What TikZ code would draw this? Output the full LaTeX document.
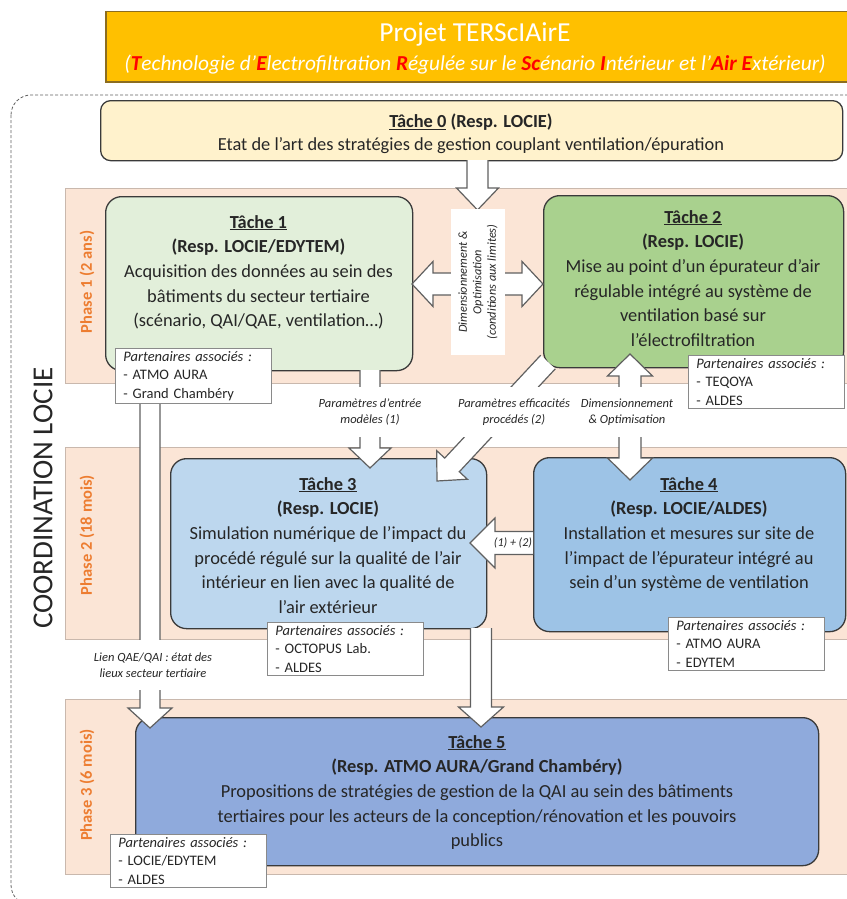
\documentclass[tikz,border=0pt]{standalone}
\usepackage{fontspec}
\setmainfont{Carlito}
\usetikzlibrary{calc}
\definecolor{bannerfill}{HTML}{FFC000}
\definecolor{bannerline}{HTML}{8C6D1F}
\definecolor{tzero}{HTML}{FFF2CC}
\definecolor{tone}{HTML}{E2EFDA}
\definecolor{ttwo}{HTML}{A9D18E}
\definecolor{tthree}{HTML}{BDD7EE}
\definecolor{tfour}{HTML}{9DC3E6}
\definecolor{tfive}{HTML}{8FAADC}
\definecolor{bandfill}{HTML}{FBE5D6}
\definecolor{bandline}{HTML}{C9B8AD}
\definecolor{phasecol}{HTML}{ED7D31}
\definecolor{boxline}{HTML}{3A3A3A}
\definecolor{txt}{HTML}{262626}
\definecolor{arrowgray}{HTML}{606060}
\definecolor{pline}{HTML}{8A8A8A}
\newcommand\blkarrow[5]{%
  \coordinate (tmpb) at ($(#2)!#5!(#1)$);
  \draw[barrow] ($(#1)!#3!90:(#2)$) -- ($(tmpb)!#3!90:(#2)$) -- ($(tmpb)!#4!90:(#2)$) -- (#2) -- ($(tmpb)!#4!-90:(#2)$) -- ($(tmpb)!#3!-90:(#2)$) -- ($(#1)!#3!-90:(#2)$);
}
\newcommand\blkdarrow[5]{%
  \coordinate (tmpa) at ($(#1)!#5!(#2)$);
  \coordinate (tmpb) at ($(#2)!#5!(#1)$);
  \draw[barrow] (#1) -- ($(tmpa)!#4!90:(#2)$) -- ($(tmpa)!#3!90:(#2)$) -- ($(tmpb)!#3!-90:(#1)$) -- ($(tmpb)!#4!-90:(#1)$) -- (#2) -- ($(tmpb)!#4!90:(#1)$) -- ($(tmpb)!#3!90:(#1)$) -- ($(tmpa)!#3!-90:(#2)$) -- ($(tmpa)!#4!-90:(#2)$) -- cycle;
}
\begin{document}
\begin{tikzpicture}[x=1pt,y=-1pt,
  taskbox/.style={draw=boxline, line width=1.3pt, rounded corners=16pt, anchor=north west, inner sep=0pt},
  band/.style={draw=bandline, fill=bandfill, line width=0.8pt, anchor=north west, inner sep=0pt, minimum width=800pt},
  tasktext/.style={align=center, font=\fontsize{18.4}{24.7}\selectfont, text=txt, inner sep=0pt, anchor=north},
  phase/.style={font=\fontsize{16.5}{18}\selectfont\bfseries, text=phasecol, rotate=90},
  pbox/.style={draw=pline, fill=white, line width=0.8pt, anchor=north west, text width=140pt, inner xsep=8pt, inner ysep=3pt, align=left, font=\fontsize{14.5}{18.5}\selectfont, text=txt},
  barrow/.style={draw=arrowgray, fill=white, line width=1.2pt, line join=miter},
  lab/.style={font=\fontsize{12.5}{16}\selectfont\itshape, align=center, fill=white, inner sep=2pt, text=txt, minimum height=50pt}
]
\useasboundingbox (0,0) rectangle (846,899);
% banner
\node[draw=bannerline, fill=bannerfill, line width=1.5pt, anchor=north west, minimum width=760pt, minimum height=70pt, inner sep=0pt] (banner) at (105,11) {};
\node[text=white, font=\fontsize{27.5}{30}\selectfont] (title) at (475,34) {Projet TERScIAirE};
\node[text=white, font=\fontsize{21.3}{24}\selectfont\itshape] (subtitle) at (475,65) {(\textbf{\color{red}T}echnologie d’\textbf{\color{red}E}lectrofiltration \textbf{\color{red}R}égulée sur le \textbf{\color{red}Sc}énario \textbf{\color{red}I}ntérieur et l’\textbf{\color{red}Air} \textbf{\color{red}E}xtérieur)};
% coordination frame
\draw[draw=arrowgray, line width=0.8pt, dash pattern=on 3pt off 2pt, rounded corners=20pt] (11,95) rectangle (880,905);
\node[font=\fontsize{29}{32}\selectfont, text=txt, rotate=90] (coord) at (43,498) {COORDINATION LOCIE};
% task 0
\node[taskbox, fill=tzero, rounded corners=10pt, minimum width=742pt, minimum height=60pt] (t0) at (100,100) {};
\node[tasktext, font=\fontsize{18.4}{23}\selectfont] (t0txt) at (471,114) {\textbf{\underline{Tâche 0} (Resp. LOCIE)}\\Etat de l’art des stratégies de gestion couplant ventilation/épuration};
% bands
\node[band, minimum height=195pt] (ph1) at (65,188) {};
\node[band, minimum height=192pt] (ph2) at (65,447) {};
\node[band, minimum height=175pt] (ph3) at (65,699) {};
\node[phase] (ph1lab) at (87,282) {Phase 1 (2 ans)};
\node[phase] (ph2lab) at (87,535) {Phase 2 (18 mois)};
\node[phase] (ph3lab) at (87,785) {Phase 3 (6 mois)};
% tasks
\node[taskbox, fill=tone, minimum width=307pt, minimum height=174pt] (t1) at (105,196) {};
\node[tasktext] (t1txt) at (258.5,215) {\textbf{\underline{Tâche 1}}\\\textbf{(Resp. LOCIE/EDYTEM)}\\Acquisition des données au sein des\\bâtiments du secteur tertiaire\\(scénario, QAI/QAE, ventilation…)};
\node[taskbox, fill=ttwo, minimum width=300pt, minimum height=172pt] (t2) at (543,195) {};
\node[tasktext] (t2txt) at (693,210) {\textbf{\underline{Tâche 2}}\\\textbf{(Resp. LOCIE)}\\Mise au point d’un épurateur d’air\\régulable intégré au système de\\ventilation basé sur\\l’électrofiltration};
\node[taskbox, fill=tthree, minimum width=316pt, minimum height=170pt] (t3) at (170,458) {};
\node[tasktext] (t3txt) at (328,477) {\textbf{\underline{Tâche 3}}\\\textbf{(Resp. LOCIE)}\\Simulation numérique de l’impact du\\procédé régulé sur la qualité de l’air\\intérieur en lien avec la qualité de\\l’air extérieur};
\node[taskbox, fill=tfour, minimum width=312pt, minimum height=174pt] (t4) at (533,457) {};
\node[tasktext] (t4txt) at (689,477) {\textbf{\underline{Tâche 4}}\\\textbf{(Resp. LOCIE/ALDES)}\\Installation et mesures sur site de\\l’impact de l’épurateur intégré au\\sein d’un système de ventilation};
\node[taskbox, fill=tfive, minimum width=683pt, minimum height=148pt] (t5) at (135,717) {};
\node[tasktext] (t5txt) at (477,735) {\textbf{\underline{Tâche 5}}\\\textbf{(Resp. ATMO AURA/Grand Chambéry)}\\Propositions de stratégies de gestion de la QAI au sein des bâtiments\\tertiaires pour les acteurs de la conception/rénovation et les pouvoirs\\publics};
% arrows
\coordinate (a0s) at (477.5,160); \coordinate (a0e) at (477.5,210);
\blkarrow{a0s}{a0e}{10.5pt}{21pt}{22pt}
\coordinate (bL) at (412,284); \coordinate (bR) at (543,284);
\blkdarrow{bL}{bR}{11pt}{22.5pt}{21pt}
\node[rotate=90, fill=white, minimum width=146pt, minimum height=54pt, inner sep=0pt, align=center, font=\fontsize{12.3}{14.5}\selectfont\itshape, text=txt] (dimlab) at (478,282) {Dimensionnement \&\\Optimisation\\(conditions aux limites)};
\coordinate (c1s) at (370,370); \coordinate (c1e) at (370,468);
\blkarrow{c1s}{c1e}{10pt}{21pt}{20pt}
\coordinate (d1s) at (548,362); \coordinate (d1e) at (437,481);
\blkarrow{d1s}{d1e}{10pt}{21pt}{22pt}
\coordinate (e1s) at (630,354); \coordinate (e1e) at (630,480);
\blkdarrow{e1s}{e1e}{11pt}{22.5pt}{22pt}
\coordinate (f1s) at (533,543); \coordinate (f1e) at (470,543);
\blkarrow{f1s}{f1e}{11.5pt}{25pt}{25pt}
\node[font=\fontsize{12}{13}\selectfont\itshape, text=txt, inner sep=0pt] (flab) at (513,543) {(1) + (2)};
\coordinate (g1s) at (150,370); \coordinate (g1e) at (150,728);
\blkarrow{g1s}{g1e}{10pt}{22pt}{20pt}
\coordinate (h1s) at (481,628); \coordinate (h1e) at (481,727);
\blkarrow{h1s}{h1e}{10.5pt}{22.5pt}{20pt}
% arrow labels
\node[lab] (lab1) at (370,412) {Paramètres d’entrée\\modèles (1)};
\node[lab] (lab2) at (514,412) {Paramètres efficacités\\procédés (2)};
\node[lab] (lab3) at (627,412) {Dimensionnement\\\& Optimisation};
\node[lab] (lab4) at (153,665) {Lien QAE/QAI : état des\\lieux secteur tertiaire};
% partners
\node[pbox] (p1) at (115,348) {\textit{Partenaires associés :}\\- ATMO AURA\\- Grand Chambéry};
\node[pbox] (p2) at (688,355) {\textit{Partenaires associés :}\\- TEQOYA\\- ALDES};
\node[pbox] (p3) at (267,622) {\textit{Partenaires associés :}\\- OCTOPUS Lab.\\- ALDES};
\node[pbox] (p4) at (668,617) {\textit{Partenaires associés :}\\- ATMO AURA\\- EDYTEM};
\node[pbox] (p5) at (110,834) {\textit{Partenaires associés :}\\- LOCIE/EDYTEM\\- ALDES};
\end{tikzpicture}
\end{document}
